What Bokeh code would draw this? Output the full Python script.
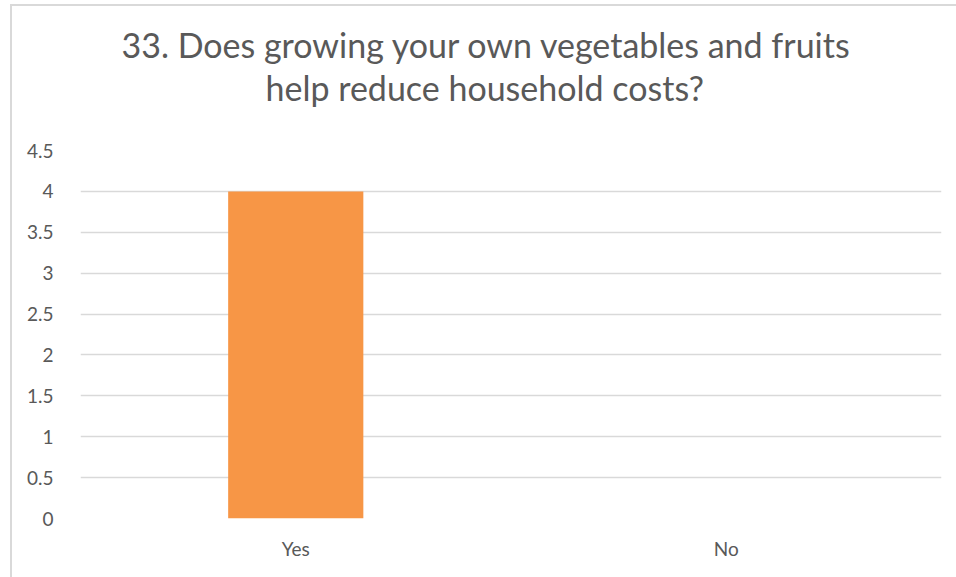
from bokeh.plotting import figure
from bokeh.models import Title, Range1d, FixedTicker
from bokeh.embed import file_html
from bokeh.resources import INLINE

categories = ["Yes", "No"]
values = [4, 0]
title_lines = ["33. Does growing your own vegetables and fruits",
               "help reduce household costs?"]
y_ticks = [0, 0.5, 1, 1.5, 2, 2.5, 3, 3.5, 4, 4.5]

FONT = "Lato"
TXT = "#595959"
GRID = "#d9d9d9"

p = figure(x_range=categories, width=946, height=573, output_backend="svg",
           toolbar_location=None, min_border_left=68, min_border_right=17,
           min_border_top=144, min_border_bottom=61, title=None,
           styles={"margin-left": "10px", "margin-top": "4px",
                   "border-left": "2px solid #d9d9d9", "border-top": "2px solid #d9d9d9"})
p.y_range = Range1d(0, 4.5)
p.vbar(x=categories, top=values, width=0.314, fill_color="#F79646", line_color=None)

p.yaxis.ticker = FixedTicker(ticks=y_ticks)
p.yaxis.major_label_overrides = {0: "0", 1: "1", 2: "2", 3: "3", 4: "4"}
for ax in (p.xaxis, p.yaxis):
    ax.axis_line_color = None
    ax.major_tick_line_color = None
    ax.minor_tick_line_color = None
    ax.major_label_text_font = FONT
    ax.major_label_text_font_size = "19px"
    ax.major_label_text_color = TXT
p.yaxis.major_label_standoff = 21
p.xaxis.major_label_standoff = 12
p.xgrid.grid_line_color = None
p.ygrid.grid_line_color = GRID
p.ygrid.grid_line_width = 1.3
p.outline_line_color = None

# spacer between title block and plot area
p.add_layout(Title(text=" ", text_font=FONT, text_font_size="34px", standoff=0), "above")
offsets = [41, 185]
for t, off in reversed(list(zip(title_lines, offsets))):
    p.add_layout(Title(text=t, align="left", offset=off, text_font=FONT, text_font_size="34px",
                       text_color=TXT, text_font_style="normal", standoff=0), "above")

open("out.html", "w").write(file_html(p, INLINE))
